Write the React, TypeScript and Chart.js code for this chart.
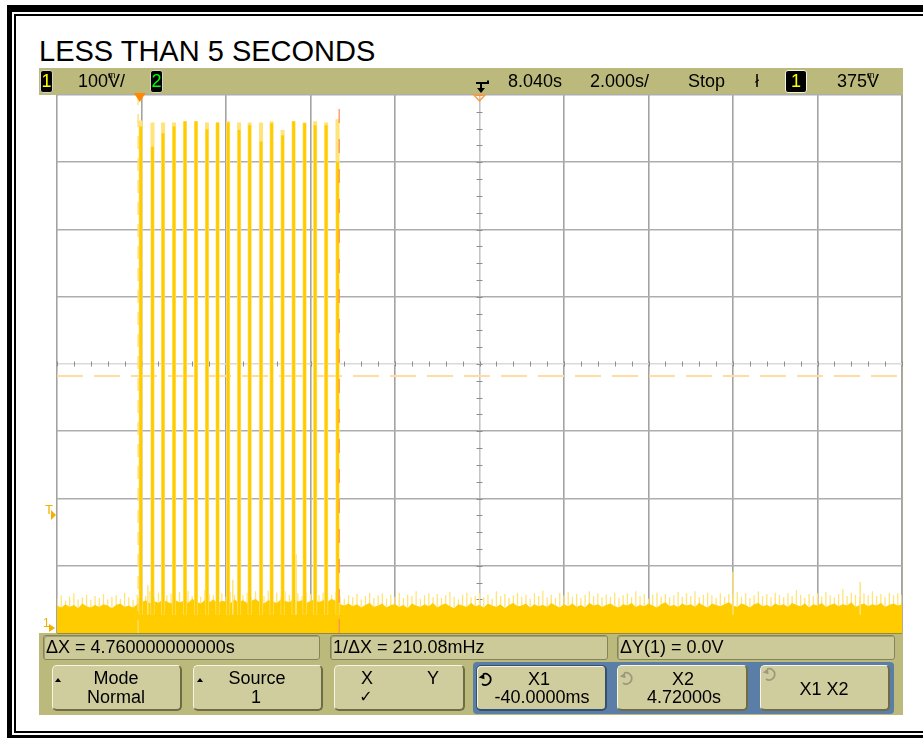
import React, { useEffect, useRef } from "react";
import { Chart, registerables } from "chart.js";

Chart.register(...registerables);

// ---------------- data ----------------
const titleText = "LESS THAN 5 SECONDS";
const timeDelayS = 8.04; // 8.040s (screen centre)
const timePerDivS = 2.0; // 2.000s/
const mvPerDiv = 100; // 100mV/
const hDivs = 10;
const vDivs = 8;
const screenCentreMv = 393;
const triggerLevelMv = 375;
const cursorX1S = -0.04;
const cursorX2S = 4.72;

const pulseTimesS = [0.02, 0.3, 0.55, 0.81, 1.07, 1.33, 1.59, 1.84, 2.09, 2.35, 2.6, 2.87, 3.12, 3.38, 3.64, 3.9, 4.15, 4.41, 4.68];
const pulsePeakMv = [755, 752, 752, 752, 754, 754, 752, 752, 754, 752, 752, 752, 754, 741, 754, 752, 754, 752, 757];
const pulseSolidMv = [746, 716, 736, 746, 754, 754, 742, 752, 752, 741, 748, 724, 751, 733, 754, 751, 748, 748, 694];

const glitchTimesS = [0.19, 2.2, 3.7, 3.92, 4.42, 14.04, 17.05];
const glitchPeakMv = [64, 72, 110, 112, 112, 84, 69];

const noiseStartS = -1.96;
const noiseStepS = 0.1;
const noiseBodyMv = [
  33, 30, 35, 31, 34, 29, 36, 32, 30, 34,
  31, 35, 33, 29, 34, 36, 31, 33, 30, 35,
  38, 41, 36, 40, 37, 42, 39, 36, 41, 38,
  40, 37, 43, 39, 36, 41, 38, 42, 37, 40,
  39, 36, 42, 38, 41, 37, 40, 43, 38, 36,
  41, 39, 37, 42, 40, 38, 43, 39, 41, 37,
  40, 42, 38, 41, 39, 43, 40, 35, 33, 36,
  32, 35, 30, 34, 37, 31, 33, 36, 30, 34,
  35, 31, 34, 29, 36, 33, 31, 35, 32, 37,
  30, 34, 36, 32, 29, 35, 33, 31, 37, 32,
  34, 30, 36, 33, 31, 35, 29, 34, 37, 32,
  33, 36, 30, 35, 32, 34, 31, 37, 33, 30,
  35, 32, 36, 31, 34, 30, 37, 33, 35, 31,
  34, 36, 32, 30, 35, 33, 37, 31, 34, 32,
  36, 33, 30, 35, 38, 32, 34, 31, 36, 33,
  35, 31, 37, 33, 30, 36, 34, 32, 35, 38,
  33, 31, 36, 34, 30, 35, 37, 32, 34, 31,
  36, 33, 35, 31, 37, 34, 32, 36, 30, 35,
  33, 37, 31, 34, 36, 32, 35, 33, 38, 31,
  34, 36, 32, 35, 33, 37, 31, 34, 36, 33, 35,
];
const noisePeakMv = [
  44, 49, 41, 47, 52, 43, 46, 50, 42, 48,
  45, 51, 43, 47, 49, 44, 53, 46, 42, 50,
  52, 48, 55, 47, 53, 58, 49, 51, 46, 54,
  50, 56, 48, 53, 47, 57, 51, 49, 55, 52,
  47, 54, 50, 58, 49, 53, 46, 55, 51, 48,
  56, 49, 53, 47, 55, 50, 57, 52, 48, 54,
  51, 55, 49, 53, 58, 50, 54, 47, 44, 49,
  46, 51, 43, 48, 53, 45, 49, 52, 44, 50,
  47, 53, 45, 50, 48, 55, 44, 49, 52, 46,
  51, 45, 49, 54, 47, 43, 50, 53, 46, 48,
  52, 46, 50, 44, 55, 48, 51, 45, 49, 53,
  47, 50, 44, 52, 48, 56, 46, 50, 45, 53,
  49, 54, 47, 51, 45, 50, 55, 48, 52, 46,
  50, 47, 53, 45, 49, 52, 46, 55, 48, 51,
  44, 50, 53, 47, 51, 46, 49, 54, 47, 52,
  48, 55, 46, 50, 53, 49, 45, 52, 47, 51,
  50, 54, 47, 52, 45, 49, 55, 48, 51, 46,
  53, 49, 46, 52, 48, 57, 50, 45, 51, 48,
  52, 47, 54, 49, 46, 51, 58, 48, 53, 50,
  47, 52, 49, 55, 48, 51, 46, 53, 49, 52, 50,
];

// ---------------- colours / fonts ----------------
const FONT = '"Liberation Sans", Arial, Helvetica, sans-serif';
const OLIVE = "#bcb97c";
const BTN = "#cfcc9d";
const BOX = "#cdca9a";
const YEL = "#ffcc00";
const YEL_LIGHT = "#ffe47a";

type P = { x: number; y: number | null };

function spikes(ts: number[], tops: number[], base: number): P[] {
  const out: P[] = [];
  ts.forEach((t, i) => {
    out.push({ x: t, y: base }, { x: t, y: tops[i] }, { x: t, y: null });
  });
  return out;
}

function ScopeCanvas() {
  const ref = useRef<HTMLCanvasElement | null>(null);
  useEffect(() => {
    const canvas = ref.current;
    if (!canvas) return;
    const xMin = timeDelayS - (timePerDivS * hDivs) / 2;
    const xMax = timeDelayS + (timePerDivS * hDivs) / 2;
    const yMin = screenCentreMv - (mvPerDiv * vDivs) / 2;
    const yMax = screenCentreMv + (mvPerDiv * vDivs) / 2;
    const xGrid = Array.from({ length: hDivs + 1 }, (_, i) => xMin + i * timePerDivS);
    const yGrid = Array.from({ length: vDivs + 1 }, (_, i) => yMin + i * mvPerDiv);

    const noiseT = noiseBodyMv.map((_, i) => noiseStartS + i * noiseStepS);

    const scopePlugin = {
      id: "scopeDecor",
      beforeDraw(chart: any) {
        const { ctx, chartArea: a } = chart;
        ctx.save();
        ctx.fillStyle = "#ffffff";
        ctx.fillRect(0, a.top, a.right, a.bottom - a.top);
        ctx.restore();
      },
      beforeDatasetsDraw(chart: any) {
        const { ctx } = chart;
        const xs = chart.scales.x;
        const ys = chart.scales.y;
        const cx = xs.getPixelForValue(timeDelayS);
        const cy = ys.getPixelForValue(screenCentreMv);
        ctx.save();
        ctx.strokeStyle = "#8e8e8e";
        ctx.lineWidth = 1;
        ctx.beginPath();
        for (let i = 0; i <= hDivs * 5; i++) {
          const px = Math.round(xs.getPixelForValue(xMin + (i * timePerDivS) / 5)) + 0.5;
          ctx.moveTo(px, cy - 2.5);
          ctx.lineTo(px, cy + 2.5);
        }
        for (let i = 0; i <= vDivs * 4; i++) {
          const py = Math.round(ys.getPixelForValue(yMin + (i * mvPerDiv) / 4)) + 0.5;
          ctx.moveTo(cx - 3, py);
          ctx.lineTo(cx + 3, py);
        }
        ctx.stroke();
        ctx.restore();
      },
      afterDraw(chart: any) {
        const { ctx, chartArea: a } = chart;
        const xs = chart.scales.x;
        ctx.save();
        ctx.strokeStyle = "#8f8a45";
        ctx.lineWidth = 1;
        ctx.beginPath();
        ctx.moveTo(a.left, a.bottom + 0.5);
        ctx.lineTo(a.right, a.bottom + 0.5);
        ctx.stroke();
        const tx = xs.getPixelForValue(0);
        ctx.fillStyle = "#ff8a00";
        ctx.beginPath();
        ctx.moveTo(tx - 6, a.top - 2);
        ctx.lineTo(tx + 6, a.top - 2);
        ctx.lineTo(tx, a.top + 7);
        ctx.closePath();
        ctx.fill();
        const dx = xs.getPixelForValue(timeDelayS);
        ctx.strokeStyle = "#ff9a3a";
        ctx.lineWidth = 1.5;
        ctx.beginPath();
        ctx.moveTo(dx - 5.5, a.top);
        ctx.lineTo(dx + 5.5, a.top);
        ctx.lineTo(dx, a.top + 6);
        ctx.closePath();
        ctx.stroke();
        ctx.restore();
      },
    };

    const chart = new Chart(canvas, {
      type: "line",
      data: {
        datasets: [
          {
            label: "trigger level",
            data: [
              { x: xMin, y: triggerLevelMv },
              { x: xMax, y: triggerLevelMv },
            ],
            borderColor: "#ffdca2",
            borderWidth: 2,
            borderDash: [26, 11],
            order: 9,
          },
          {
            label: "noise peak",
            data: spikes(noiseT, noisePeakMv, 20),
            borderColor: YEL_LIGHT,
            borderWidth: 1.3,
            order: 8,
          },
          {
            label: "noise",
            data: noiseT.map((t, i) => ({ x: t, y: noiseBodyMv[i] })),
            borderColor: YEL,
            backgroundColor: YEL,
            borderWidth: 1,
            fill: "start",
            order: 7,
          },
          {
            label: "glitches",
            data: spikes(glitchTimesS, glitchPeakMv, 20),
            borderColor: YEL_LIGHT,
            borderWidth: 1.5,
            order: 6,
          },
          {
            label: "pulse peak",
            data: spikes(pulseTimesS, pulsePeakMv, 20),
            borderColor: YEL_LIGHT,
            borderWidth: 4,
            order: 5,
          },
          {
            label: "pulse",
            data: spikes(pulseTimesS, pulseSolidMv, 20),
            borderColor: YEL,
            borderWidth: 2.8,
            order: 4,
          },
          {
            label: "X1",
            data: [
              { x: cursorX1S, y: yMin },
              { x: cursorX1S, y: yMax },
            ],
            borderColor: "rgba(255,220,110,0.9)",
            borderWidth: 1.5,
            borderDash: [13, 9],
            order: 2,
          },
          {
            label: "X2",
            data: [
              { x: cursorX2S, y: yMin },
              { x: cursorX2S, y: yMax },
            ],
            borderColor: "rgba(255,140,80,0.8)",
            borderWidth: 1.5,
            borderDash: [14, 16],
            order: 1,
          },
        ] as any,
      },
      options: {
        animation: false,
        responsive: false,
        events: [],
        layout: { padding: { left: 18, top: 27, right: 1, bottom: 82 } },
        elements: { point: { radius: 0 }, line: { tension: 0 } },
        plugins: { legend: { display: false }, tooltip: { enabled: false } },
        scales: {
          x: {
            type: "linear",
            min: xMin,
            max: xMax,
            offset: false,
            afterBuildTicks: (s: any) => {
              s.ticks = xGrid.map((v) => ({ value: v }));
            },
            ticks: { display: false },
            grid: {
              drawTicks: false,
              offset: false,
              lineWidth: 1.6,
              color: (c: any) =>
                Math.abs(c.tick.value - timeDelayS) < 1e-6 ? "#c4c4c4" : "#a3a3a3",
            },
            border: { display: false },
          },
          y: {
            type: "linear",
            min: yMin,
            max: yMax,
            afterBuildTicks: (s: any) => {
              s.ticks = yGrid.map((v) => ({ value: v }));
            },
            ticks: { display: false },
            grid: {
              drawTicks: false,
              lineWidth: 1.6,
              color: (c: any) =>
                Math.abs(c.tick.value - screenCentreMv) < 1e-6 ? "#dadada" : "#adadad",
            },
            border: { display: false },
          },
        },
      } as any,
      plugins: [scopePlugin],
    });
    return () => chart.destroy();
  }, []);
  return (
    <canvas
      ref={ref}
      width={864}
      height={647}
      style={{ position: "absolute", left: 39, top: 68, width: 864, height: 647, zIndex: 1 }}
    />
  );
}

function Txt(props: {
  x: number;
  y: number;
  size?: number;
  color?: string;
  align?: "left" | "center";
  family?: string;
  children: any;
}) {
  const size = props.size ?? 18;
  const style: any = {
    position: "absolute",
    left: props.x,
    top: props.y - 0.8465 * size,
    fontSize: size,
    lineHeight: size + "px",
    height: size,
    color: props.color ?? "#000",
    fontFamily: props.family ?? FONT,
    whiteSpace: "pre",
    zIndex: 3,
  };
  if (props.align === "center") style.transform = "translateX(-50%)";
  return <div style={style}>{props.children}</div>;
}

function MV() {
  return (
    <span style={{ position: "relative", display: "inline-block" }}>
      V
      <span style={{ position: "absolute", left: 0, top: -1, fontSize: 9, lineHeight: "9px" }}>m</span>
    </span>
  );
}

function ChBox(props: { x: number; w: number; label: string; color: string; rim?: boolean }) {
  return (
    <div
      style={{
        position: "absolute",
        left: props.x,
        top: 70,
        width: props.w,
        height: 23,
        boxSizing: "border-box",
        background: "#000",
        border: props.rim ? "1.5px solid #f4f2e4" : "1px solid #d8d6c0",
        borderRadius: 3,
        color: props.color,
        fontFamily: FONT,
        fontSize: 18,
        lineHeight: "20px",
        textAlign: "center",
        zIndex: 3,
      }}
    >
      {props.label}
    </div>
  );
}

function Btn(props: { x: number; w: number; selected?: boolean }) {
  const light = props.selected ? "#35506f" : "#f6f4e2";
  const dark = props.selected ? "#35506f" : "#6f6c45";
  return (
    <div
      style={{
        position: "absolute",
        left: props.x,
        top: 665,
        width: props.w,
        height: 46,
        boxSizing: "border-box",
        background: BTN,
        borderRadius: 5,
        borderTop: `1.5px solid ${light}`,
        borderLeft: `1.5px solid ${light}`,
        borderRight: `2px solid ${dark}`,
        borderBottom: `2px solid ${dark}`,
        boxShadow: props.selected ? "inset 1px 1px 0 #f3f1df" : "none",
        zIndex: 2,
      }}
    />
  );
}

function Box(props: { x: number; w: number }) {
  return (
    <div
      style={{
        position: "absolute",
        left: props.x,
        top: 635,
        width: props.w,
        height: 25,
        boxSizing: "border-box",
        background: BOX,
        border: "1px solid #86835a",
        borderRadius: 3,
        boxShadow: "inset 1px 1px 0 #a4a172",
        zIndex: 2,
      }}
    />
  );
}

function UpTri(props: { x: number; y: number }) {
  return (
    <div
      style={{
        position: "absolute",
        left: props.x,
        top: props.y,
        width: 0,
        height: 0,
        borderLeft: "3.5px solid transparent",
        borderRight: "3.5px solid transparent",
        borderBottom: "4px solid #000",
        zIndex: 3,
      }}
    />
  );
}

function RotIcon(props: { x: number; y: number; color: string }) {
  return (
    <svg
      width={16}
      height={16}
      viewBox="0 0 16 16"
      style={{ position: "absolute", left: props.x, top: props.y, zIndex: 3 }}
    >
      <path d="M5 3.2 A5.6 5.6 0 1 1 4 13" fill="none" stroke={props.color} strokeWidth={1.7} />
      <path d="M0.8 6.5 L6 2.6 L6.5 8.2 Z" fill={props.color} />
    </svg>
  );
}

export default function App() {
  return (
    <div style={{ position: "absolute", left: 0, top: 0, width: 923, height: 738, overflow: "hidden", background: "#fff" }}>
      <div
        style={{
          position: "absolute",
          left: 7,
          top: 5,
          width: 916,
          height: 733,
          boxSizing: "border-box",
          borderLeft: "5px solid #000",
          borderTop: "7px solid #000",
          borderBottom: "3px solid #000",
        }}
      />
      <div
        style={{
          position: "absolute",
          left: 14,
          top: 14,
          width: 909,
          height: 719,
          boxSizing: "border-box",
          borderLeft: "2px solid #000",
          borderTop: "2px solid #000",
          borderBottom: "2px solid #000",
        }}
      />

      <Txt x={39} y={62} size={29}>
        {titleText}
      </Txt>

      <div style={{ position: "absolute", left: 39, top: 68, width: 864, height: 647, background: OLIVE }} />
      <ScopeCanvas />

      <ChBox x={40} w={13} label="1" color="#ffff00" />
      <Txt x={78} y={87}>
        100<MV />/
      </Txt>
      <ChBox x={150} w={13} label="2" color="#00ff00" />
      <svg width={16} height={14} viewBox="0 0 16 14" style={{ position: "absolute", left: 475, top: 80, zIndex: 3 }}>
        <path d="M1 3 H13 V0.5" fill="none" stroke="#000" strokeWidth={2} />
        <path d="M6 3 V9" fill="none" stroke="#000" strokeWidth={2} />
        <path d="M2 8 H10 L6 13 Z" fill="#000" />
      </svg>
      <Txt x={508} y={87}>8.040s</Txt>
      <Txt x={590} y={87}>2.000s/</Txt>
      <Txt x={688} y={87}>Stop</Txt>
      <Txt x={755} y={87}>ł</Txt>
      <ChBox x={785} w={22} label="1" color="#ffff00" rim />
      <Txt x={837} y={87}>
        375<MV />
      </Txt>

      <Txt x={45} y={514} size={13} color="#f4b000">T</Txt>
      <div
        style={{
          position: "absolute",
          left: 51,
          top: 510,
          width: 0,
          height: 0,
          borderTop: "5px solid transparent",
          borderBottom: "5px solid transparent",
          borderLeft: "5px solid #f4b000",
          zIndex: 3,
        }}
      />
      <Txt x={43} y={627} size={12} color="#f0b000">1</Txt>
      <div
        style={{
          position: "absolute",
          left: 49,
          top: 624,
          width: 0,
          height: 0,
          borderTop: "4px solid transparent",
          borderBottom: "4px solid transparent",
          borderLeft: "6px solid #f0b000",
          zIndex: 3,
        }}
      />

      <Box x={43} w={277} />
      <Box x={330} w={278} />
      <Box x={617} w={278} />
      <Txt x={46} y={653}>ΔX = 4.760000000000s</Txt>
      <Txt x={333} y={653}>1/ΔX = 210.08mHz</Txt>
      <Txt x={620} y={653}>ΔY(1) = 0.0V</Txt>

      <div
        style={{
          position: "absolute",
          left: 473,
          top: 662,
          width: 421,
          height: 52,
          background: "#5b7ea6",
          borderRadius: 4,
          zIndex: 1,
        }}
      />
      <Btn x={52} w={130} />
      <Btn x={193} w={130} />
      <Btn x={334} w={131} />
      <Btn x={476} w={131} selected />
      <Btn x={617} w={131} />
      <Btn x={760} w={130} />

      <UpTri x={55} y={678} />
      <Txt x={116} y={684} align="center">Mode</Txt>
      <Txt x={116} y={703} align="center">Normal</Txt>

      <UpTri x={197} y={678} />
      <Txt x={257} y={684} align="center">Source</Txt>
      <Txt x={256} y={703} align="center">1</Txt>

      <Txt x={367} y={684} align="center">X</Txt>
      <Txt x={433} y={684} align="center">Y</Txt>
      <Txt x={366} y={703} size={16} align="center" family='"DejaVu Sans", sans-serif'>✓</Txt>

      <RotIcon x={478} y={671} color="#000" />
      <Txt x={539} y={685} align="center">X1</Txt>
      <Txt x={542} y={703} align="center">-40.0000ms</Txt>

      <RotIcon x={619} y={670} color="#9c9a7e" />
      <Txt x={683} y={685} align="center">X2</Txt>
      <Txt x={684} y={703} align="center">4.72000s</Txt>

      <RotIcon x={762} y={666} color="#9c9a7e" />
      <Txt x={824} y={695} align="center">X1 X2</Txt>
    </div>
  );
}
